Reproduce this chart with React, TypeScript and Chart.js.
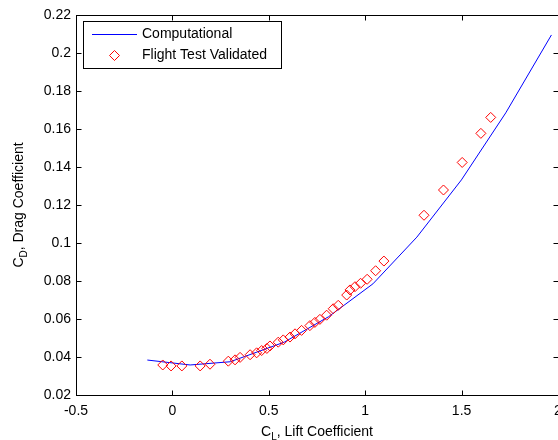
import React, { useEffect, useRef } from "react";
import { Chart, registerables } from "chart.js";

Chart.register(...registerables);

// ---- Data ----
const computationalCL = [-0.13, 0.092, 0.3, 0.58, 0.81, 1.04, 1.268, 1.499, 1.729, 1.966];
const computationalCD = [0.0384, 0.0358, 0.0375, 0.0478, 0.0612, 0.0785, 0.1031, 0.1332, 0.1685, 0.2095];

const flightCL = [
  -0.05, -0.007, 0.049, 0.144, 0.195, 0.29, 0.325, 0.351, 0.403, 0.437, 0.463, 0.49, 0.506, 0.549,
  0.575, 0.61, 0.636, 0.67, 0.713, 0.739, 0.765, 0.8, 0.834, 0.86, 0.904, 0.921, 0.947, 0.976,
  1.01, 1.054, 1.097, 1.305, 1.406, 1.503, 1.6, 1.651,
];
const flightCD = [
  0.0358, 0.0353, 0.0353, 0.0353, 0.0362, 0.0378, 0.0385, 0.0398, 0.0412, 0.0422, 0.0434, 0.0445,
  0.0458, 0.0478, 0.049, 0.0505, 0.0522, 0.054, 0.0565, 0.0582, 0.0598, 0.062, 0.0654, 0.0672,
  0.0726, 0.0753, 0.077, 0.0788, 0.0809, 0.0854, 0.0905, 0.1146, 0.1279, 0.1424, 0.1577, 0.1661,
];

const xTicks = [-0.5, 0, 0.5, 1, 1.5, 2];
const yTicks = [0.02, 0.04, 0.06, 0.08, 0.1, 0.12, 0.14, 0.16, 0.18, 0.2, 0.22];

const xTitle = ["C", "L", ", Lift Coefficient"];
const yTitle = ["C", "D", ", Drag Coefficient"];
const legendLabels = ["Computational", "Flight Test Validated"];

const FONT = '"Liberation Sans", Arial, Helvetica, sans-serif';
const BLUE = "#0000ff";
const RED = "#ff0000";

function fmt(v: number) {
  return String(parseFloat(Number(v).toFixed(4)));
}

function drawRich(ctx: CanvasRenderingContext2D, parts: string[], cx: number, baseY: number) {
  const main = `14px ${FONT}`;
  const sub = `10px ${FONT}`;
  ctx.font = main;
  const w1 = ctx.measureText(parts[0]).width;
  const w3 = ctx.measureText(parts[2]).width;
  ctx.font = sub;
  const w2 = ctx.measureText(parts[1]).width;
  const total = w1 + w2 + w3;
  let x = cx - total / 2;
  ctx.textAlign = "left";
  ctx.textBaseline = "alphabetic";
  ctx.fillStyle = "#000";
  ctx.font = main;
  ctx.fillText(parts[0], x, baseY);
  x += w1;
  ctx.font = sub;
  ctx.fillText(parts[1], x, baseY + 4);
  x += w2;
  ctx.font = main;
  ctx.fillText(parts[2], x, baseY);
}

const framePlugin = {
  id: "matlabFrame",
  afterDraw(chart: any) {
    const { ctx, chartArea: a, scales } = chart;
    const L = Math.round(a.left) + 0.5;
    const R = Math.round(a.right) + 0.5;
    const T = Math.round(a.top) + 0.5;
    const B = Math.round(a.bottom) + 0.5;
    ctx.save();
    ctx.strokeStyle = "#000";
    ctx.lineWidth = 1;
    ctx.strokeRect(L, T, R - L, B - T);
    const tl = 5;
    ctx.beginPath();
    xTicks.forEach((v) => {
      const px = Math.round(scales.x.getPixelForValue(v)) + 0.5;
      ctx.moveTo(px, B);
      ctx.lineTo(px, B - tl);
      ctx.moveTo(px, T);
      ctx.lineTo(px, T + tl);
    });
    yTicks.forEach((v) => {
      const py = Math.round(scales.y.getPixelForValue(v)) + 0.5;
      ctx.moveTo(L, py);
      ctx.lineTo(L + tl, py);
      ctx.moveTo(R, py);
      ctx.lineTo(R - tl, py);
    });
    ctx.stroke();

    // Legend
    const lx = 83.5, ly = 21.5, lw = 198, lh = 47;
    ctx.fillStyle = "#fff";
    ctx.fillRect(lx, ly, lw, lh);
    ctx.strokeStyle = "#000";
    ctx.strokeRect(lx, ly, lw, lh);
    ctx.strokeStyle = BLUE;
    ctx.beginPath();
    ctx.moveTo(92, 34.5);
    ctx.lineTo(137, 34.5);
    ctx.stroke();
    ctx.strokeStyle = RED;
    ctx.beginPath();
    const dx = 114.5, dy = 55.5, r = 5;
    ctx.moveTo(dx, dy - r);
    ctx.lineTo(dx + r, dy);
    ctx.lineTo(dx, dy + r);
    ctx.lineTo(dx - r, dy);
    ctx.closePath();
    ctx.stroke();
    ctx.fillStyle = "#000";
    ctx.font = `14px ${FONT}`;
    ctx.textAlign = "left";
    ctx.textBaseline = "middle";
    ctx.fillText(legendLabels[0], 142, 34);
    ctx.fillText(legendLabels[1], 142, 55);

    // Axis titles
    const cx = (a.left + a.right) / 2;
    drawRich(ctx, xTitle, cx, 436);
    ctx.save();
    ctx.translate(23, (a.top + a.bottom) / 2);
    ctx.rotate(-Math.PI / 2);
    drawRich(ctx, yTitle, 0, 0);
    ctx.restore();
    ctx.restore();
  },
};

export default function App() {
  const ref = useRef<HTMLCanvasElement | null>(null);
  useEffect(() => {
    if (!ref.current) return;
    const chart = new Chart(ref.current, {
      type: "scatter",
      data: {
        datasets: [
          {
            label: legendLabels[0],
            data: computationalCL.map((x, i) => ({ x, y: computationalCD[i] })),
            showLine: true,
            borderColor: BLUE,
            borderWidth: 1,
            pointRadius: 0,
            tension: 0,
            fill: false,
            order: 1,
          },
          {
            label: legendLabels[1],
            data: flightCL.map((x, i) => ({ x, y: flightCD[i] })),
            showLine: false,
            pointStyle: "rectRot",
            pointRadius: 5,
            borderColor: RED,
            pointBorderColor: RED,
            borderWidth: 1,
            backgroundColor: "rgba(0,0,0,0)",
            pointBackgroundColor: "rgba(0,0,0,0)",
            order: 0,
          },
        ],
      },
      options: {
        responsive: false,
        animation: false,
        events: [],
        layout: { autoPadding: false, padding: { left: 0, top: 15, right: 0, bottom: 0 } },
        plugins: { legend: { display: false }, tooltip: { enabled: false } },
        scales: {
          x: {
            type: "linear",
            min: -0.5,
            max: 2,
            grid: { display: false, drawTicks: false },
            border: { display: false },
            afterBuildTicks: (s: any) => {
              s.ticks = xTicks.map((value) => ({ value }));
            },
            afterFit: (s: any) => {
              s.height = 45;
              s.paddingLeft = 0;
              s.paddingRight = 0;
            },
            ticks: {
              autoSkip: false,
              maxRotation: 0,
              padding: 8,
              color: "#000",
              font: { family: FONT, size: 14 },
              callback: (v: any) => fmt(v),
            },
          },
          y: {
            type: "linear",
            min: 0.02,
            max: 0.22,
            grid: { display: false, drawTicks: false },
            border: { display: false },
            afterBuildTicks: (s: any) => {
              s.ticks = yTicks.map((value) => ({ value }));
            },
            afterFit: (s: any) => {
              s.width = 76;
            },
            ticks: {
              autoSkip: false,
              padding: 5,
              color: "#000",
              font: { family: FONT, size: 14 },
              callback: (v: any) => fmt(v),
            },
          },
        },
      },
      plugins: [framePlugin],
    } as any);
    return () => chart.destroy();
  }, []);
  return (
    <div style={{ position: "fixed", left: 0, top: 0, width: 558, height: 440, background: "#fff" }}>
      <canvas ref={ref} width={558} height={440} style={{ display: "block", width: 558, height: 440 }} />
    </div>
  );
}
